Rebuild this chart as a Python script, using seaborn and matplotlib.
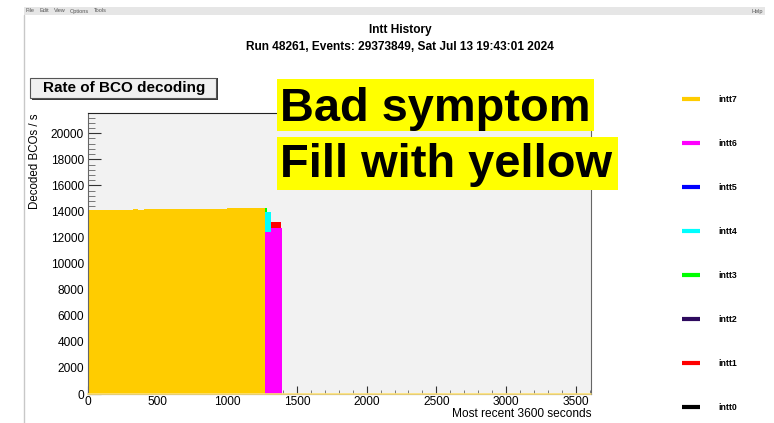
import matplotlib
matplotlib.use("Agg")
import matplotlib.pyplot as plt
from matplotlib.lines import Line2D
from matplotlib.patches import Rectangle
from matplotlib.ticker import MultipleLocator
import pandas as pd
import seaborn as sns

# ---- data -------------------------------------------------------------
channels = ["intt0", "intt1", "intt2", "intt3", "intt4", "intt5", "intt6", "intt7"]
colors = ["#000000", "#ff0000", "#2e0a5e", "#00ff00", "#00ffff", "#0000ff", "#ff00ff", "#ffcc00"]

# time bins (seconds): 40 s bins while all servers ran, then the stop period
time_edges = list(range(0, 1241, 40)) + [1270, 1282, 1311, 1386, 1395, 3610]

# intt7 decoding rate per 40 s bin before it stopped
intt7_rates = [14130, 14120, 14130, 14125, 14135, 14140, 14135, 14145,
               14150, 14145, 14155, 14160, 14155, 14165, 14175, 14170,
               14180, 14185, 14190, 14200, 14195, 14205, 14215, 14210,
               14225, 14230, 14240, 14250, 14245, 14260, 14275, 14270]

# steady rate of the other servers during the common running period
steady_rates = [13950, 13160, 13900, 14050, 13920, 13850, 12420]

# rates in the bins 1270-1282, 1282-1311, 1311-1386, 1386-1395, 1395-3610
tail_rates = {
    "intt0": [0, 0, 0, 0, 0],
    "intt1": [13160, 13160, 13160, 0, 0],
    "intt2": [0, 0, 0, 0, 0],
    "intt3": [14230, 0, 0, 0, 0],
    "intt4": [13920, 13920, 0, 0, 0],
    "intt5": [0, 0, 0, 0, 0],
    "intt6": [12420, 12420, 12700, 12700, 0],
    "intt7": [0, 0, 0, 0, 0],
}

title_lines = ["Intt History", "Run 48261, Events: 29373849, Sat Jul 13 19:43:01 2024"]

# ---- build the table --------------------------------------------------
edges = [float(e) for e in time_edges]
centers = [0.5 * (a + b) for a, b in zip(edges[:-1], edges[1:])]
n_run = len(intt7_rates)
rows = []
for i, ch in enumerate(channels):
    if ch == "intt7":
        vals = list(intt7_rates) + tail_rates[ch]
    else:
        vals = [steady_rates[i]] * n_run + tail_rates[ch]
    for c, v in zip(centers, vals):
        rows.append({"channel": ch, "t": c, "rate": v})
df = pd.DataFrame(rows)

# ---- style ------------------------------------------------------------
sns.set_style("white")
plt.rcParams["font.family"] = ["Liberation Sans", "DejaVu Sans"]
plt.rcParams["text.color"] = "black"
plt.rcParams["xtick.color"] = "#333333"
plt.rcParams["ytick.color"] = "#333333"
plt.rcParams["xtick.labelcolor"] = "black"
plt.rcParams["ytick.labelcolor"] = "black"

W, H = 774, 423
fig = plt.figure(figsize=(W / 100, H / 100), dpi=100)
fig.patch.set_facecolor("white")


def fx(x):
    return x / W


def fy(y):
    return 1 - y / H


# window menu bar
fig.patches.append(Rectangle((fx(24), fy(15)), fx(765) - fx(24), fy(7) - fy(15),
                             transform=fig.transFigure, facecolor="#e6e6e6",
                             edgecolor="none", zorder=0))
fig.add_artist(Line2D([fx(24), fx(24)], [fy(15), 0], transform=fig.transFigure,
                      color="#c8c8c8", lw=1))
for label, x in [("File", 26), ("Edit", 40), ("View", 54), ("Options", 70), ("Tools", 94)]:
    fig.text(fx(x), fy(11), label, fontsize=4, color="#555555", va="center", ha="left")
fig.text(fx(752), fy(11), "Help", fontsize=4, color="#555555", va="center", ha="left")

# titles
fig.text(fx(400), fy(30), title_lines[0], fontsize=8.6, fontweight="bold",
         ha="center", va="center")
fig.text(fx(400), fy(46.5), title_lines[1], fontsize=8.6, fontweight="bold",
         ha="center", va="center")

# ---- histogram axes ---------------------------------------------------
ax = fig.add_axes([fx(88), fy(394), fx(591) - fx(88), fy(113) - fy(394)])
ax.set_facecolor("#f2f2f2")

for ch, col in zip(channels, colors):
    sub = df[df["channel"] == ch]
    sns.histplot(data=sub, x="t", weights="rate", bins=edges, element="step",
                 fill=True, color=col, alpha=1, linewidth=0, ax=ax)

ax.axhline(0, color="#ffe27a", lw=1.2, zorder=3, clip_on=False)

ax.set_xlim(0, 3610)
ax.set_ylim(0, 21550)
ax.set_xlabel("")
ax.set_ylabel("")
ax.xaxis.set_major_locator(MultipleLocator(500))
ax.xaxis.set_minor_locator(MultipleLocator(100))
ax.yaxis.set_major_locator(MultipleLocator(2000))
ax.yaxis.set_minor_locator(MultipleLocator(400))
ax.tick_params(which="both", bottom=True, left=True, top=False, right=False)
ax.tick_params(axis="x", which="major", direction="in", length=6, width=0.8,
               labelsize=8.6, pad=1.5)
ax.tick_params(axis="x", which="minor", direction="in", length=3, width=0.7,
               color="#777777")
ax.tick_params(axis="y", which="major", direction="in", length=9.5, width=0.8,
               labelsize=8.6, pad=3)
ax.tick_params(axis="y", which="minor", direction="in", length=4.8, width=0.7,
               color="#777777")
for side in ["left", "right", "top", "bottom"]:
    ax.spines[side].set_color("#666666")
    ax.spines[side].set_linewidth(0.8)
ax.spines["top"].set_color("#222222")
# ticks sit underneath the filled histograms
ax.set_axisbelow(True)

# axis titles in ROOT placement
fig.text(fx(35), fy(113), "Decoded BCOs / s", rotation=90, fontsize=8.3,
         ha="center", va="top")
fig.text(fx(591), fy(414), "Most recent 3600 seconds", fontsize=8.6,
         ha="right", va="center")

# histogram title box
fig.patches.append(Rectangle((fx(32), fy(100)), fx(218) - fx(32), fy(78) - fy(100),
                             transform=fig.transFigure, facecolor="#3a3a3a",
                             edgecolor="none", zorder=1))
fig.patches.append(Rectangle((fx(30), fy(98)), fx(216) - fx(30), fy(78) - fy(98),
                             transform=fig.transFigure, facecolor="#f0f0f0",
                             edgecolor="#555555", lw=0.8, zorder=2))
fig.text(fx(124), fy(88), "Rate of BCO decoding", fontsize=11, fontweight="bold",
         ha="center", va="center", zorder=3)

# yellow annotations
for (x0, y0, x1, y1) in [(277, 79, 594, 131), (277, 137, 618, 190)]:
    fig.patches.append(Rectangle((fx(x0), fy(y1)), fx(x1) - fx(x0), fy(y0) - fy(y1),
                                 transform=fig.transFigure, facecolor="#ffff00",
                                 edgecolor="none", zorder=4))
fig.text(fx(280), fy(121), "Bad symptom", fontsize=33.8, fontweight="bold",
         color="black", ha="left", va="baseline", zorder=5)
fig.text(fx(280), fy(177), "Fill with yellow", fontsize=33.8, fontweight="bold",
         color="black", ha="left", va="baseline", zorder=5)

# legend column
legend_y = [407, 363, 319, 275, 231, 187, 143, 99]
for ch, col, y in zip(channels, colors, legend_y):
    fig.add_artist(Line2D([fx(682), fx(700)], [fy(y), fy(y)], transform=fig.transFigure,
                          color=col, lw=3, solid_capstyle="butt"))
    fig.text(fx(718), fy(y), ch, fontsize=6.3, fontweight="bold", color="black",
             ha="left", va="center")

fig.savefig("out.png", dpi=100)
